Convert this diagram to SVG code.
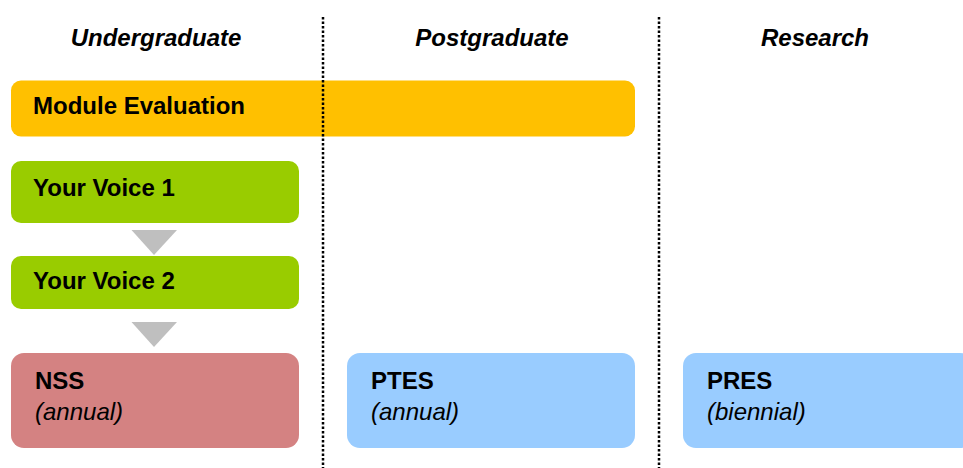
<svg xmlns="http://www.w3.org/2000/svg" width="963" height="468" viewBox="0 0 963 468">
<style>
.hdr{font-family:"Liberation Sans",Arial,sans-serif;font-weight:bold;font-style:italic;font-size:24px;fill:#000;text-anchor:middle}
.t{font-family:"Liberation Sans",Arial,sans-serif;font-weight:bold;font-size:24px;fill:#000}
.s{font-family:"Liberation Sans",Arial,sans-serif;font-style:italic;font-size:24px;fill:#000}
.div{stroke:#000;stroke-width:2.5;stroke-dasharray:2.5 2;fill:none}
.arr{fill:#BFBFBF}
</style>
<rect width="963" height="468" fill="#fff"/>
<g id="headers">
<text class="hdr" x="156" y="46">Undergraduate</text>
<text class="hdr" x="492" y="46">Postgraduate</text>
<text class="hdr" x="815" y="46">Research</text>
</g>
<g id="module-evaluation">
<rect x="11" y="80.5" width="624" height="56" rx="10" fill="#FFC000"/>
<text class="t" x="33" y="114">Module Evaluation</text>
</g>
<g id="your-voice-1">
<rect x="11" y="161" width="288" height="62" rx="10" fill="#99CC00"/>
<text class="t" x="33" y="196">Your Voice 1</text>
</g>
<g id="your-voice-2">
<rect x="11" y="256" width="288" height="53" rx="10" fill="#99CC00"/>
<text class="t" x="33" y="289">Your Voice 2</text>
</g>
<g id="nss">
<rect x="11" y="353" width="288" height="95" rx="13" fill="#D48282"/>
<text class="t" x="35" y="389">NSS</text>
<text class="s" x="35" y="420">(annual)</text>
</g>
<g id="ptes">
<rect x="347" y="353" width="288" height="95" rx="13" fill="#99CCFF"/>
<text class="t" x="371" y="389">PTES</text>
<text class="s" x="371" y="420">(annual)</text>
</g>
<g id="pres">
<rect x="683" y="353" width="290" height="95" rx="13" fill="#99CCFF"/>
<text class="t" x="707" y="389">PRES</text>
<text class="s" x="707" y="420">(biennial)</text>
</g>
<g id="connectors">
<polygon class="arr" points="131.5,230 177,230 154,255"/>
<polygon class="arr" points="131.5,322 177,322 154,347"/>
</g>
<g id="dividers">
<line class="div" x1="323" y1="17" x2="323" y2="468"/>
<line class="div" x1="659" y1="17" x2="659" y2="468"/>
</g>
</svg>
